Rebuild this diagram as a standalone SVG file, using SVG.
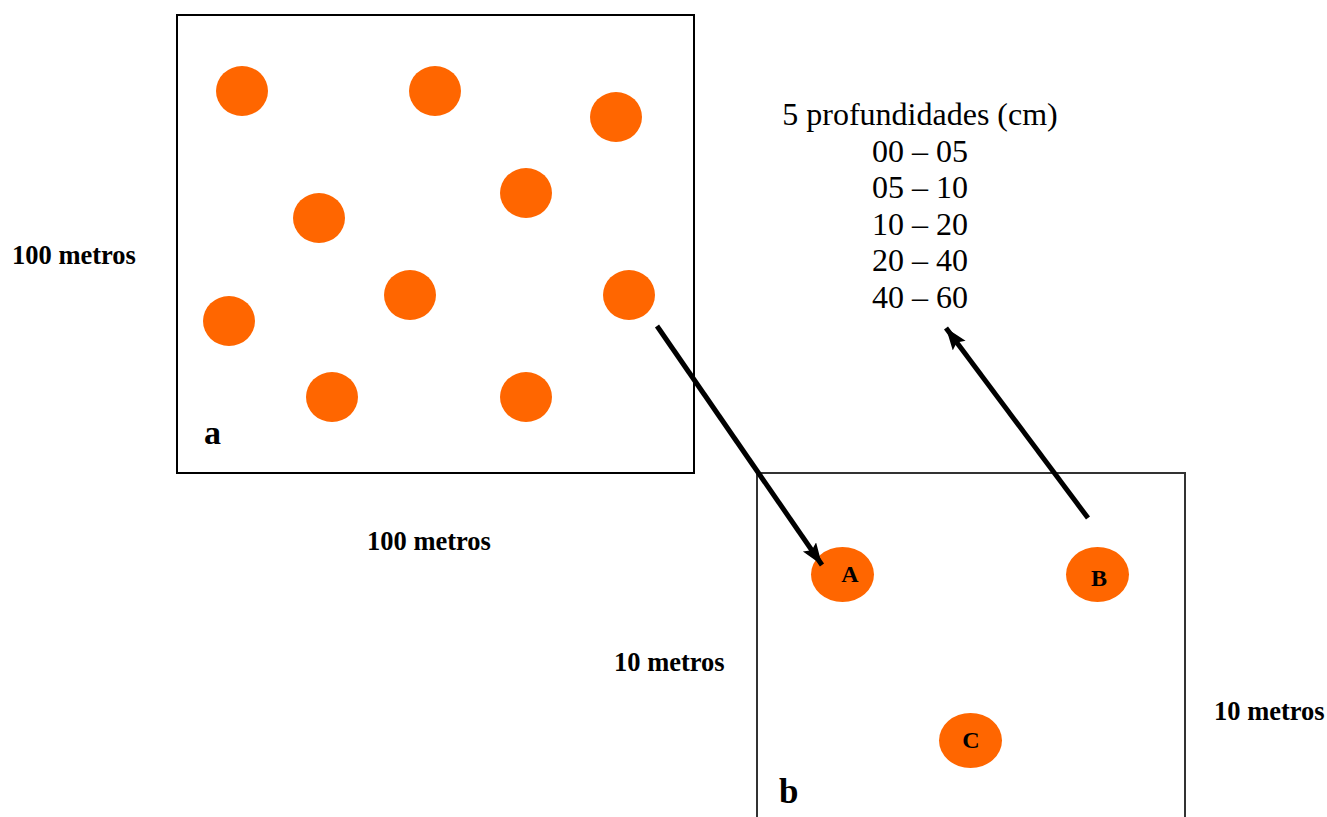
<svg xmlns="http://www.w3.org/2000/svg" width="1327" height="817" viewBox="0 0 1327 817">
<style>
.dot{fill:#ff6600}
.lbl{font-family:"Liberation Serif","Times New Roman",serif;font-weight:bold;fill:#000}
.dep{font-family:"Liberation Serif","Times New Roman",serif;font-size:32px;fill:#000}
.arr{stroke:#000;stroke-width:5;fill:none;marker-end:url(#ah)}
</style>
<defs>
<marker id="ah" markerUnits="userSpaceOnUse" markerWidth="26" markerHeight="18" refX="22" refY="8" orient="auto">
<polygon points="0,0 22,8 0,16 4,8" fill="#000"/>
</marker>
</defs>
<rect width="1327" height="817" fill="#fff"/>
<g id="plotA">
<rect x="177" y="15" width="517" height="458" fill="none" stroke="#000" stroke-width="2"/>
<ellipse class="dot" cx="242" cy="91" rx="26" ry="25"/>
<ellipse class="dot" cx="435" cy="91" rx="26" ry="25"/>
<ellipse class="dot" cx="616" cy="117" rx="26" ry="25"/>
<ellipse class="dot" cx="319" cy="218" rx="26" ry="25"/>
<ellipse class="dot" cx="526" cy="193" rx="26" ry="25"/>
<ellipse class="dot" cx="229" cy="321" rx="26" ry="25"/>
<ellipse class="dot" cx="410" cy="295" rx="26" ry="25"/>
<ellipse class="dot" cx="629" cy="295" rx="26" ry="25"/>
<ellipse class="dot" cx="332" cy="397" rx="26" ry="25"/>
<ellipse class="dot" cx="526" cy="397" rx="26" ry="25"/>
<text class="lbl" x="204" y="444" font-size="34">a</text>
</g>
<g id="labelsA">
<text class="lbl" x="12" y="264" font-size="26.5">100 metros</text>
<text class="lbl" x="367" y="550" font-size="26.5">100 metros</text>
</g>
<g id="plotB">
<path d="M757,817 V473 H1185 V817" fill="none" stroke="#333" stroke-width="2"/>
<ellipse class="dot" cx="842.5" cy="574.5" rx="31.5" ry="27.5"/>
<ellipse class="dot" cx="1097.5" cy="574.5" rx="31.5" ry="27.5"/>
<ellipse class="dot" cx="970.5" cy="740.5" rx="31.5" ry="27.5"/>
<text class="lbl" x="850" y="582" font-size="24" text-anchor="middle">A</text>
<text class="lbl" x="1099" y="586" font-size="24" text-anchor="middle">B</text>
<text class="lbl" x="971" y="748" font-size="24" text-anchor="middle">C</text>
<text class="lbl" x="779" y="803" font-size="35">b</text>
</g>
<g id="labelsB">
<text class="lbl" x="614" y="671" font-size="26.5">10 metros</text>
<text class="lbl" x="1214" y="720" font-size="26.5">10 metros</text>
</g>
<g id="depths">
<text class="dep" x="920" y="125" text-anchor="middle">5 profundidades (cm)</text>
<text class="dep" x="920" y="162" text-anchor="middle">00 – 05</text>
<text class="dep" x="920" y="198" text-anchor="middle">05 – 10</text>
<text class="dep" x="920" y="235" text-anchor="middle">10 – 20</text>
<text class="dep" x="920" y="271" text-anchor="middle">20 – 40</text>
<text class="dep" x="920" y="308" text-anchor="middle">40 – 60</text>
</g>
<g id="connectors">
<line class="arr" x1="657" y1="326" x2="822" y2="565"/>
<line class="arr" x1="1088" y1="518" x2="946" y2="328"/>
</g>
</svg>
